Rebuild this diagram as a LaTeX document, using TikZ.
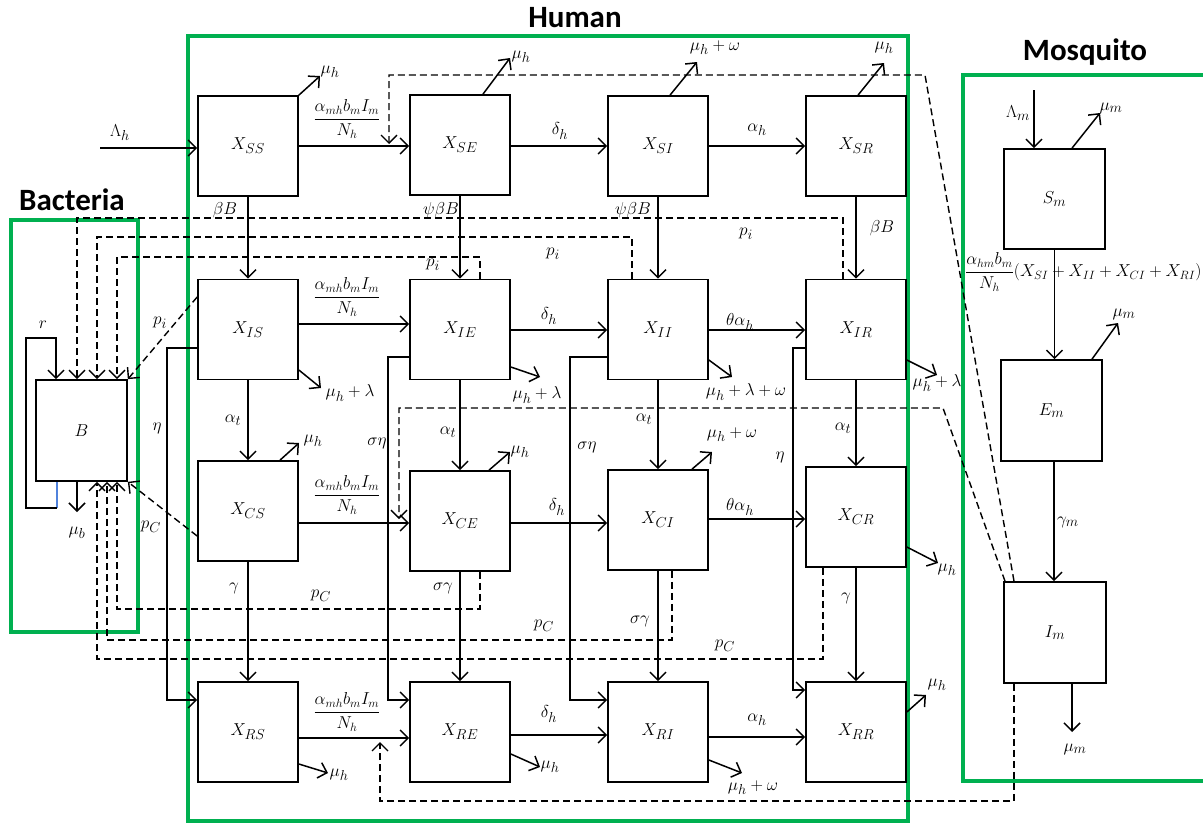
\documentclass[tikz,border=0pt]{standalone}
\usepackage{amsmath}
\usepackage{fontspec}
\newfontfamily\titlefont{Carlito}
\usetikzlibrary{arrows.meta}
\definecolor{frgreen}{RGB}{0,176,80}
\definecolor{loopblue}{RGB}{80,130,220}
\begin{document}
\begin{tikzpicture}[x=1pt,y=-1pt,
 box/.style={draw,line width=1.7pt,minimum width=100pt,minimum height=100pt,inner sep=0pt,font=\fontsize{19}{22}\selectfont},
 arr/.style={line width=1.5pt,-{Straight Barb[length=8pt,width=16pt]}},
 dsh/.style={line width=1.4pt,dash pattern=on 7pt off 4pt},
 darr/.style={dsh,-{Straight Barb[length=8pt,width=16pt]}},
 lbl/.style={font=\fontsize{19}{22}\selectfont,inner sep=0pt},
 frc/.style={font=\fontsize{17.5}{20}\selectfont,inner sep=0pt},
 frame/.style={draw=frgreen,line width=4.5pt},
 ttl/.style={font=\titlefont\bfseries\fontsize{31}{34}\selectfont,inner sep=0pt}]
\useasboundingbox (0,0) rectangle (1203,825);
% frames
\draw[frame] (188,36) rectangle (908,821);
\draw[frame] (11,220) rectangle (138,632);
\draw[frame] (963,75) rectangle (1215,781);
\node[ttl] (tH) at (575,18) {Human};
\node[ttl] (tB) at (72,200) {Bacteria};
\node[ttl] (tM) at (1085,52) {Mosquito};
% boxes
\node[box] (SS) at (248,146) {$X_{SS}$};
\node[box] (SE) at (460,145) {$X_{SE}$};
\node[box] (SI) at (658,146) {$X_{SI}$};
\node[box] (SR) at (856,146) {$X_{SR}$};
\node[box] (IS) at (248,329.5) {$X_{IS}$};
\node[box] (IE) at (460,329.5) {$X_{IE}$};
\node[box] (II) at (658,329.5) {$X_{II}$};
\node[box] (IR) at (856,329.5) {$X_{IR}$};
\node[box] (CS) at (248,511) {$X_{CS}$};
\node[box] (CE) at (460,521) {$X_{CE}$};
\node[box] (CI) at (658,520) {$X_{CI}$};
\node[box] (CR) at (856,517) {$X_{CR}$};
\node[box] (RS) at (248,732) {$X_{RS}$};
\node[box] (RE) at (460,732) {$X_{RE}$};
\node[box] (RI) at (658,732) {$X_{RI}$};
\node[box] (RR) at (856,732) {$X_{RR}$};
\node[box,minimum width=91pt,minimum height=101pt] (B) at (81.5,430.5) {$B$};
\node[box,minimum width=101pt] (Sm) at (1054.5,199) {$S_m$};
\node[box,minimum width=101pt,minimum height=101pt] (Em) at (1051.5,410.5) {$E_m$};
\node[box,minimum width=102pt,minimum height=101pt] (Im) at (1055,632.5) {$I_m$};
% free ends
\coordinate (Lh) at (100,148);
\coordinate (Lm) at (1034,90);
% horizontal transitions
\draw[arr] (Lh) -- (SS.west |- Lh);
\draw[arr] (SS.east |- 0,146) -- (SE.west |- 0,146);
\draw[arr] (SE.east |- 0,146) -- (SI.west |- 0,146);
\draw[arr] (SI.east |- 0,146) -- (SR.west |- 0,146);
\draw[arr] (IS.east |- 0,324) -- (IE.west |- 0,324);
\draw[arr] (IE.east |- 0,330) -- (II.west |- 0,330);
\draw[arr] (II.east |- 0,330) -- (IR.west |- 0,330);
\draw[arr] (CS.east |- 0,523) -- (CE.west |- 0,523);
\draw[arr] (CE.east |- 0,523) -- (CI.west |- 0,523);
\draw[arr] (CI.east |- 0,519) -- (CR.west |- 0,519);
\draw[arr] (RS.east |- 0,738) -- (RE.west |- 0,738);
\draw[arr] (RE.east |- 0,735) -- (RI.west |- 0,735);
\draw[arr] (RI.east |- 0,737) -- (RR.west |- 0,737);
% vertical transitions
\draw[arr] (SS.south) -- (IS.north);
\draw[arr] (SE.south) -- (IE.north);
\draw[arr] (SI.south) -- (II.north);
\draw[arr] (SR.south) -- (IR.north);
\draw[arr] (IS.south) -- (CS.north);
\draw[arr] (IE.south) -- (CE.north);
\draw[arr] (II.south) -- (CI.north);
\draw[arr] (IR.south) -- (CR.north);
\draw[arr] (CS.south) -- (RS.north);
\draw[arr] (CE.south) -- (RE.north);
\draw[arr] (CI.south) -- (RI.north);
\draw[arr] (CR.south) -- (RR.north);
% bypass arrows
\draw[arr] (IS.west |- 0,348) -- (167,348) -- (167,700) -- (RS.west |- 0,700);
\draw[arr] (IE.west |- 0,357) -- (388,357) -- (388,700) -- (RE.west |- 0,700);
\draw[arr] (II.west |- 0,357) -- (570,357) -- (570,700) -- (RI.west |- 0,700);
\draw[arr] (IR.west |- 0,348) -- (793,348) -- (793,690) -- (RR.west |- 0,690);
% outflows
\draw[arr] (SS.north east) -- (320,76);
\draw[arr] (SE.north -| 483,0) -- (510,58);
\draw[arr] (SI.north -| 670,0) -- (697,62);
\draw[arr] (SR.north -| 858,0) -- (884,63);
\draw[arr] (IS.east |- 0,370) -- (321,388);
\draw[arr] (IE.east |- 0,367) -- (540,377);
\draw[arr] (II.east |- 0,360) -- (732,377);
\draw[arr] (IR.east |- 0,360) -- (937,375);
\draw[arr] (CS.north -| 280,0) -- (299,443);
\draw[arr] (CE.north -| 489,0) -- (510,452);
\draw[arr] (CI.north -| 692,0) -- (712,452);
\draw[arr] (CR.east |- 0,547) -- (938,563);
\draw[arr] (RS.east |- 0,764) -- (328,773);
\draw[arr] (RE.east |- 0,754) -- (540,767);
\draw[arr] (RI.east |- 0,760) -- (742,773);
\draw[arr] (RR.east |- 0,712) -- (926,695);
\draw[arr] (B.south -| 77,0) -- (77,512);
% bacteria self loop
\draw[line width=1.5pt,loopblue] (B.south -| 57,0) -- (57,508);
\draw[arr] (57,508) -- (26,508) -- (26,338) -- (56,338) -- (B.north -| 56,0);
% mosquito
\draw[arr] (Lm) -- (Sm.north -| Lm);
\draw[arr] (Sm.north -| 1072,0) -- (1100,113);
\draw[arr] (Sm.south) -- (Sm.south |- Em.north);
\draw[arr] (Em.north -| 1092,0) -- (1118,323);
\draw[arr] (Em.south -| 1054,0) -- (Im.north -| 1054,0);
\draw[arr] (Im.south -| 1072,0) -- (1072,732);
% dashed: mosquito infection links
\draw[darr] (Im.north -| 1014,0) -- (925,75) -- (389,75) -- (389,144);
\draw[darr] (Im.north -| 1005,0) -- (943,408) -- (399,408) -- (399,519);
\draw[darr] (Im.south -| 1014,0) -- (1014,801) -- (380,801) -- (380,742);
% dashed: shedding into B
\draw[darr] (IR.north -| 843,0) -- (843,218) -- (77,218) -- (B.north -| 77,0);
\draw[darr] (II.north -| 632,0) -- (632,237) -- (97,237) -- (B.north -| 97,0);
\draw[darr] (IE.north -| 480,0) -- (480,257) -- (117,257) -- (B.north -| 117,0);
\draw[darr] (IS.west |- 0,297) -- (B.north east);
\draw[darr] (CE.south -| 480,0) -- (480,609) -- (117,609) -- (B.south -| 117,0);
\draw[darr] (CI.south -| 672,0) -- (672,640) -- (107,640) -- (B.south -| 107,0);
\draw[darr] (CR.south -| 823,0) -- (823,659) -- (97,659) -- (B.south -| 97,0);
\draw[darr] (CS.west |- 0,536) -- (B.south east);
% labels
\node[lbl] (n1) at (120,133) {$\Lambda_h$};
\node[frc] (n2) at (347,119) {$\dfrac{\alpha_{mh}b_m I_m}{N_h}$};
\node[frc] (n3) at (347,297) {$\dfrac{\alpha_{mh}b_m I_m}{N_h}$};
\node[frc] (n4) at (347,495) {$\dfrac{\alpha_{mh}b_m I_m}{N_h}$};
\node[frc] (n5) at (347,712) {$\dfrac{\alpha_{mh}b_m I_m}{N_h}$};
\node[lbl] (n6) at (560,131) {$\delta_h$};
\node[lbl] (n7) at (549,316) {$\delta_h$};
\node[lbl] (n8) at (557,507) {$\delta_h$};
\node[lbl] (n9) at (549,714) {$\delta_h$};
\node[lbl] (n10) at (757,130) {$\alpha_h$};
\node[lbl] (n11) at (740,322) {$\theta\alpha_h$};
\node[lbl] (n12) at (740,507) {$\theta\alpha_h$};
\node[lbl] (n13) at (757,720) {$\alpha_h$};
\node[lbl] (n14) at (225,210) {$\beta B$};
\node[lbl] (n15) at (441,210) {$\psi\beta B$};
\node[lbl] (n16) at (633,210) {$\psi\beta B$};
\node[lbl] (n17) at (882,228) {$\beta B$};
\node[lbl] (n18) at (433,265) {$p_i$};
\node[lbl] (n19) at (553,254) {$p_i$};
\node[lbl] (n20) at (746,234) {$p_i$};
\node[lbl] (n21) at (160,323) {$p_i$};
\node[lbl] (n22) at (151,527) {$p_C$};
\node[lbl] (n23) at (233,420) {$\alpha_t$};
\node[lbl] (n24) at (448,432) {$\alpha_t$};
\node[lbl] (n25) at (644,419) {$\alpha_t$};
\node[lbl] (n26) at (843,428) {$\alpha_t$};
\node[lbl] (n27) at (157,428) {$\eta$};
\node[lbl] (n28) at (377,443) {$\sigma\eta$};
\node[lbl] (n29) at (587,447) {$\sigma\eta$};
\node[lbl] (n30) at (780,457) {$\eta$};
\node[lbl] (n31) at (234,588) {$\gamma$};
\node[lbl] (n32) at (443,588) {$\sigma\gamma$};
\node[lbl] (n33) at (640,621) {$\sigma\gamma$};
\node[lbl] (n34) at (846,598) {$\gamma$};
\node[lbl] (n35) at (321,596) {$p_C$};
\node[lbl] (n36) at (544,626) {$p_C$};
\node[lbl] (n37) at (725,646) {$p_C$};
\node[lbl] (n38) at (330,72) {$\mu_h$};
\node[lbl] (n39) at (521,57) {$\mu_h$};
\node[lbl] (n40) at (715,48) {$\mu_h+\omega$};
\node[lbl] (n41) at (884,48) {$\mu_h$};
\node[lbl] (n42) at (350,393) {$\mu_h+\lambda$};
\node[lbl] (n43) at (537,395) {$\mu_h+\lambda$};
\node[lbl] (n44) at (746,392) {$\mu_h+\lambda+\omega$};
\node[lbl] (n45) at (937,383) {$\mu_h+\lambda$};
\node[lbl] (n46) at (313,441) {$\mu_h$};
\node[lbl] (n47) at (520,452) {$\mu_h$};
\node[lbl] (n48) at (732,435) {$\mu_h+\omega$};
\node[lbl] (n49) at (947,570) {$\mu_h$};
\node[lbl] (n50) at (339,775) {$\mu_h$};
\node[lbl] (n51) at (550,767) {$\mu_h$};
\node[lbl] (n52) at (753,788) {$\mu_h+\omega$};
\node[lbl] (n53) at (937,685) {$\mu_h$};
\node[lbl] (n54) at (77,533) {$\mu_b$};
\node[lbl] (n55) at (43,325) {$r$};
\node[lbl] (n56) at (1018,113) {$\Lambda_m$};
\node[lbl] (n57) at (1111,108) {$\mu_m$};
\node[frc,anchor=west] (n58) at (965,272) {$\dfrac{\alpha_{hm}b_m}{N_h}(X_{SI}+X_{II}+X_{CI}+X_{RI})$};
\node[lbl] (n59) at (1124,314) {$\mu_m$};
\node[lbl] (n60) at (1068,522) {$\gamma_m$};
\node[lbl] (n61) at (1075,749) {$\mu_m$};
\end{tikzpicture}
\end{document}
